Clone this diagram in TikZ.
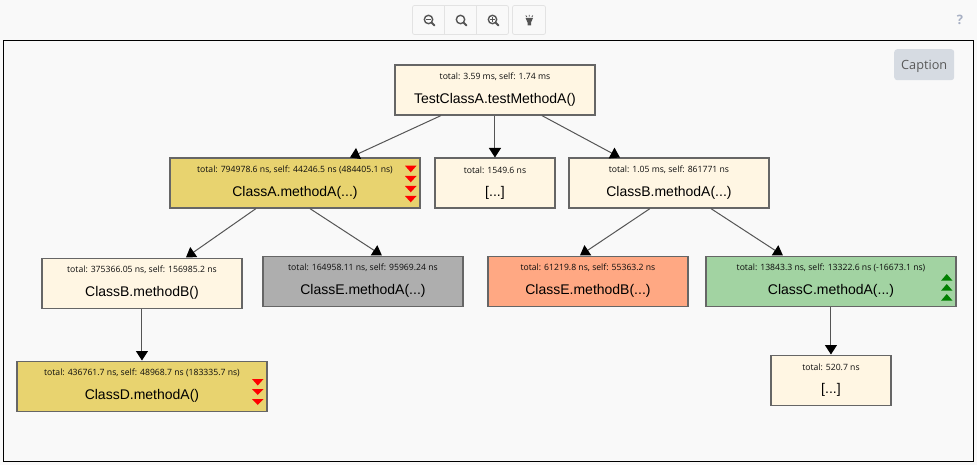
\documentclass[tikz,border=0pt]{standalone}
\usepackage{fontspec}
\setmainfont{Liberation Sans}
\newfontfamily\smallfam{Open Sans}
\usetikzlibrary{arrows.meta,calc}
\definecolor{pagebg}{HTML}{F9F9F9}
\definecolor{cream}{HTML}{FFF6E3}
\definecolor{slowyellow}{HTML}{E8D36F}
\definecolor{neutralgray}{HTML}{AEAEAE}
\definecolor{hotorange}{HTML}{FFA883}
\definecolor{fastgreen}{HTML}{A2D3A2}
\definecolor{edgegray}{HTML}{555555}
\definecolor{boxborder}{HTML}{666666}
\definecolor{toolborder}{HTML}{E3E3E3}
\definecolor{capfill}{HTML}{D6DBE2}
\definecolor{iconcol}{HTML}{555555}
\definecolor{helpcol}{HTML}{A8B0C4}
\definecolor{downred}{HTML}{FF0000}
\definecolor{upgreen}{HTML}{008000}
\tikzset{
  x=1pt,y=-1pt,
  callbox/.style={draw=boxborder,line width=1.1pt,minimum height=50pt,inner sep=0pt,anchor=north west},
  smalltext/.style={font=\smallfam\fontsize{8.65}{11}\selectfont,text=black!95,inner sep=0pt},
  maintext/.style={font=\fontsize{14}{16}\selectfont,text=black,inner sep=0pt},
  edgeline/.style={draw=edgegray,line width=1pt,-{Triangle[length=9.5pt,width=12pt,fill=black,color=black]},shorten >=0pt},
  toolbtn/.style={draw=toolborder,line width=0.8pt,fill=pagebg,rounded corners=2pt},
  icon/.style={draw=iconcol,line width=1.4pt,line cap=round},
}
\newcommand{\callnode}[8]{% name,x,y,w,fill,small,main,smalldy
  \node[callbox,fill=#5,minimum width=#4pt] (#1) at (#2-0.6,#3-0.5) {};
  \node[smalltext] (#1small) at ($(#1.north)+(0,#8)$) {#6};
  \node[maintext] (#1main) at ($(#1.north)+(0,35.7)$) {#7};
}
\newcommand{\tridown}[3]{\fill[downred] (#1,#2) -- (#1+11.5,#2) -- (#1+5.75,#3) -- cycle;}
\newcommand{\triup}[3]{\fill[upgreen] (#1,#3) -- (#1+11.5,#3) -- (#1+5.75,#2) -- cycle;}
\newcommand{\magnifier}[1]{%
  \draw[icon] (#1-1,19.5) circle (4.2);
  \draw[icon,line width=1.8pt] (#1+2.2,22.7) -- (#1+5,25.5);
}
\begin{document}
\begin{tikzpicture}
\useasboundingbox (0,0) rectangle (977,465);
\fill[pagebg] (0,0) rectangle (977,465);
\draw[black,line width=1pt] (3.5,41) rectangle (973,461.5);

% toolbar
\draw[toolbtn] (412.5,5.5) rectangle (508.5,34.5);
\draw[toolborder,line width=0.8pt] (444.5,5.5) -- (444.5,34.5) (476.5,5.5) -- (476.5,34.5);
\draw[toolbtn] (512.5,5.5) rectangle (545.5,34.5);
\magnifier{429.5}
\draw[iconcol,line width=1pt] (426.3,19.5) -- (430.7,19.5);
\magnifier{461.5}
\magnifier{493.5}
\draw[iconcol,line width=1pt] (490.3,19.5) -- (494.7,19.5) (492.5,17.3) -- (492.5,21.7);
% bulb
\fill[iconcol] (525.6,18) -- (533,18) -- (531,22.5) -- (531,25.5) -- (527.5,25.5) -- (527.5,22.5) -- cycle;
\draw[iconcol,line width=0.8pt] (529.3,15) -- (529.3,16.6) (525.8,15.5) -- (526.8,16.9) (532.8,15.5) -- (531.8,16.9);

\node[font=\smallfam\bfseries\fontsize{13}{15}\selectfont,text=helpcol,inner sep=0pt] (help) at (960,20) {?};

% caption
\node[fill=capfill,rounded corners=3pt,minimum width=60pt,minimum height=31pt,inner sep=0pt,
  anchor=north west] (caption) at (894,49) {};
\node[font=\smallfam\fontsize{12.7}{15}\selectfont,text=black!65,inner sep=0pt] (captiontext) at ($(caption.center)+(0,1.5)$) {Caption};

% boxes
\callnode{root}{395}{65}{200}{cream}{total: 3.59 ms, self: 1.74 ms}{TestClassA.testMethodA()}{12.7}
\callnode{classA}{170}{158}{250}{slowyellow}{total: 794978.6 ns, self: 44246.5 ns (484405.1 ns)}{ClassA.methodA(...)}{12.7}
\callnode{elide}{435}{158}{120}{cream}{total: 1549.6 ns}{[...]}{12.7}
\callnode{classB}{569}{158}{200}{cream}{total: 1.05 ms, self: 861771 ns}{ClassB.methodA(...)}{12.7}
\callnode{methB}{42}{258}{200}{cream}{total: 375366.05 ns, self: 156985.2 ns}{ClassB.methodB()}{12.7}
\callnode{classE}{263}{256}{200}{neutralgray}{total: 164958.11 ns, self: 95969.24 ns}{ClassE.methodA(...)}{12.7}
\callnode{methEB}{488}{256}{200}{hotorange}{total: 61219.8 ns, self: 55363.2 ns}{ClassE.methodB(...)}{12.7}
\callnode{classC}{706}{256}{250}{fastgreen}{total: 13843.3 ns, self: 13322.6 ns (-16673.1 ns)}{ClassC.methodA(...)}{12.7}
\callnode{classD}{17}{361}{250}{slowyellow}{total: 436761.7 ns, self: 48968.7 ns (183335.7 ns)}{ClassD.methodA()}{12.7}
\callnode{elideC}{771}{355}{120}{cream}{total: 520.7 ns}{[...]}{12.7}

% marks
\tridown{405}{165.7}{172.3}\tridown{405}{176}{182.3}\tridown{405}{186}{192.3}\tridown{405}{196}{202.3}
\tridown{252}{379}{385.5}\tridown{252}{389}{395}\tridown{252}{399}{405}
\triup{941}{274}{280.7}\triup{941}{284}{290.7}\triup{941}{294}{300.7}

% connectors
\draw[edgeline] ([xshift=-54pt]root.south) -- ([xshift=55pt]classA.north);
\draw[edgeline] (root.south) -- (elide.north);
\draw[edgeline] ([xshift=47pt]root.south) -- ([xshift=-49pt]classB.north);
\draw[edgeline] ([xshift=-39pt]classA.south) -- ([xshift=44pt]methB.north);
\draw[edgeline] ([xshift=15pt]classA.south) -- ([xshift=19pt]classE.north);
\draw[edgeline] ([xshift=-19pt]classB.south) -- ([xshift=-8pt]methEB.north);
\draw[edgeline] ([xshift=42pt]classB.south) -- ([xshift=-48pt]classC.north);
\draw[edgeline] (methB.south) -- (classD.north);
\draw[edgeline] (classC.south) -- (elideC.north);
\end{tikzpicture}
\end{document}
